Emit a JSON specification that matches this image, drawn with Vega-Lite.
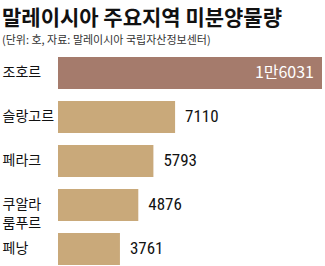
{
  "$schema": "https://vega.github.io/schema/vega-lite/v6.json",
  "width": 264,
  "height": 208,
  "autosize": {"type": "none"},
  "padding": {"left": 58, "top": 57, "right": 3, "bottom": 1},
  "background": "white",
  "title": {
    "text": "말레이시아 주요지역 미분양물량",
    "subtitle": "(단위: 호, 자료: 말레이시아 국립자산정보센터)",
    "anchor": "start",
    "frame": "group",
    "dx": -56,
    "offset": 11,
    "font": "Noto Sans CJK KR",
    "fontSize": 21,
    "fontWeight": "bold",
    "color": "#111111",
    "subtitleFont": "Noto Sans CJK KR",
    "subtitleFontSize": 11,
    "subtitleColor": "#333333",
    "subtitlePadding": 6
  },
  "data": {
    "values": [
      {"region": "조호르", "value": 16031, "label": "1만6031"},
      {"region": "슬랑고르", "value": 7110, "label": "7110"},
      {"region": "페라크", "value": 5793, "label": "5793"},
      {"region": "쿠알라 룸푸르", "value": 4876, "label": "4876"},
      {"region": "페낭", "value": 3761, "label": "3761"}
    ]
  },
  "encoding": {
    "y": {
      "field": "region",
      "type": "nominal",
      "sort": null,
      "scale": {"paddingInner": 0.27, "paddingOuter": 0},
      "axis": {
        "title": null,
        "domain": false,
        "ticks": false,
        "labelAlign": "left",
        "labelPadding": 56,
        "labelFont": "Noto Sans CJK KR",
        "labelFontSize": 14,
        "labelColor": "#111111",
        "labelLineHeight": 19,
        "labelExpr": "split(datum.label, ' ')"
      }
    },
    "x": {
      "field": "value",
      "type": "quantitative",
      "scale": {"domain": [0, 16031], "nice": false, "zero": true},
      "axis": null
    }
  },
  "layer": [
    {
      "mark": {"type": "bar"},
      "encoding": {
        "color": {
          "condition": {"test": "datum.region === '조호르'", "value": "#A57B6C"},
          "value": "#C9A97A"
        }
      }
    },
    {
      "transform": [{"filter": "datum.region !== '조호르'"}],
      "mark": {"type": "text", "align": "left", "dx": 10, "font": "Liberation Sans Narrow, Roboto Condensed, Liberation Sans, sans-serif", "fontSize": 17, "color": "#111111"},
      "encoding": {"text": {"field": "label"}}
    },
    {
      "transform": [{"filter": "datum.region === '조호르'"}],
      "mark": {"type": "text", "align": "right", "dx": -8, "font": "Noto Sans CJK KR", "fontSize": 16, "color": "white"},
      "encoding": {"text": {"field": "label"}}
    }
  ],
  "config": {"view": {"stroke": null}}
}
